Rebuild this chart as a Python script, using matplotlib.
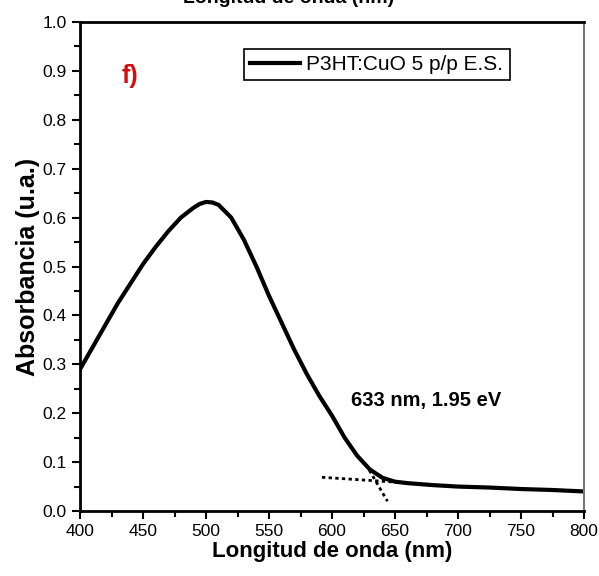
import matplotlib
matplotlib.use('Agg')
import matplotlib.pyplot as plt
from matplotlib.ticker import MultipleLocator, FormatStrFormatter

plt.rcParams['font.family'] = ['Liberation Sans', 'DejaVu Sans']

# absorbance spectrum
wavelength = [400, 410, 420, 430, 440, 450, 460, 470, 480, 490, 495, 500, 505, 510, 520,
              530, 540, 550, 560, 570, 580, 590, 595, 600, 610, 620, 630, 640, 650, 660,
              670, 680, 700, 725, 750, 775, 800]
absorb = [0.29, 0.335, 0.38, 0.425, 0.465, 0.505, 0.54, 0.572, 0.6, 0.62, 0.628, 0.632,
          0.631, 0.626, 0.6, 0.555, 0.5, 0.44, 0.385, 0.33, 0.28, 0.235, 0.215, 0.195,
          0.15, 0.113, 0.085, 0.068, 0.06, 0.057, 0.055, 0.053, 0.05, 0.048, 0.045,
          0.043, 0.04]

# tangent lines
base_x = [592, 651]
base_y = [0.069, 0.059]
slope_x = [627, 644]
slope_y = [0.095, 0.02]

label = 'P3HT:CuO 5 p/p E.S.'
note = '633 nm, 1.95 eV'

fig = plt.figure(figsize=(5.99, 5.76), dpi=100)
ax = fig.add_axes([0.1336, 0.1128, 0.8414, 0.849])

ax.plot(wavelength, absorb, color='black', lw=3, label=label)
ax.plot(base_x, base_y, color='black', lw=2, ls=(0, (1.2, 1.2)))
ax.plot(slope_x, slope_y, color='black', lw=2, ls=(0, (1.2, 1.2)))

ax.set_xlim(400, 800)
ax.set_ylim(0, 1.0)
ax.xaxis.set_major_locator(MultipleLocator(50))
ax.xaxis.set_minor_locator(MultipleLocator(25))
ax.yaxis.set_major_locator(MultipleLocator(0.1))
ax.yaxis.set_minor_locator(MultipleLocator(0.05))
ax.yaxis.set_major_formatter(FormatStrFormatter('%.1f'))
ax.tick_params(which='both', direction='out', width=1.5, labelsize=12.5, top=False, right=False)
ax.tick_params(which='major', length=6)
ax.tick_params(which='minor', length=4)

for s in ['left', 'bottom', 'top']:
	ax.spines[s].set_linewidth(2)
ax.spines['right'].set_color('#777777')
ax.spines['right'].set_linewidth(1.5)

ax.set_xlabel('Longitud de onda (nm)', fontsize=16, fontweight='bold', labelpad=1)
ax.set_ylabel('Absorbancia (u.a.)', fontsize=18, fontweight='bold', labelpad=2)

ax.text(433, 0.89, 'f)', color='#d01010', fontsize=18, fontweight='bold', va='center')
ax.text(615, 0.227, note, fontsize=14.5, fontweight='bold', va='center')

leg = ax.legend(loc='upper left', bbox_to_anchor=(0.325, 0.945), fontsize=15,
	fancybox=False, edgecolor='black', framealpha=1, handlelength=2.4,
	borderpad=0.3, handletextpad=0.3, borderaxespad=0)
leg.get_frame().set_linewidth(1.2)

# top label, cut off by the picture edge
fig.text(0.482, 1.002, 'Longitud de onda (nm)', fontsize=14, fontweight='bold',
	ha='center', va='center')

fig.savefig('out.png', dpi=100)
